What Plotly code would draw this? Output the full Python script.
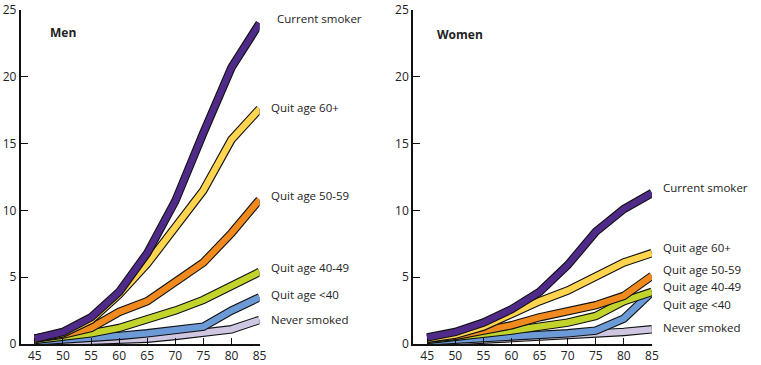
import plotly.graph_objects as go

ages = [45, 50, 55, 60, 65, 70, 75, 80, 85]
series_names = ["Current smoker", "Quit age 60+", "Quit age 50-59", "Quit age 40-49", "Quit age <40", "Never smoked"]
colors = ["#4f2a88", "#ffd44f", "#f08a1e", "#c2d42c", "#6b9ad6", "#cfc6e2"]

men_current = [0.4, 0.9, 2.0, 3.9, 6.8, 10.7, 15.8, 20.7, 24.0]
men_q60 = [0.4, 0.8, 1.8, 3.7, 6.0, 8.7, 11.5, 15.3, 17.6]
men_q50 = [0.4, 0.7, 1.2, 2.4, 3.2, 4.6, 6.1, 8.3, 10.8]
men_q40 = [0.3, 0.5, 0.8, 1.2, 1.8, 2.5, 3.3, 4.4, 5.4]
men_qlt40 = [0.2, 0.3, 0.4, 0.6, 0.8, 1.0, 1.3, 2.5, 3.5]
men_never = [0.1, 0.15, 0.2, 0.3, 0.4, 0.6, 0.8, 1.1, 1.8]

women_current = [0.5, 0.9, 1.6, 2.6, 3.9, 5.9, 8.4, 10.1, 11.3]
women_q60 = [0.4, 0.7, 1.3, 2.3, 3.2, 4.0, 5.1, 6.1, 6.8]
women_q50 = [0.4, 0.6, 1.0, 1.4, 2.0, 2.4, 2.9, 3.6, 5.1]
women_q40 = [0.3, 0.5, 0.8, 1.0, 1.3, 1.6, 2.1, 3.2, 3.9]
women_qlt40 = [0.2, 0.3, 0.4, 0.5, 0.6, 0.8, 1.0, 1.9, 3.9]
women_never = [0.1, 0.2, 0.3, 0.4, 0.5, 0.6, 0.7, 0.9, 1.1]

men_label_x = [87.8, 86.6, 86.6, 86.6, 86.6, 86.6]
men_label_y = [24.4, 17.7, 11.15, 5.7, 3.67, 1.8]
women_label_x = [86.6, 86.6, 86.6, 86.6, 86.6, 86.6]
women_label_y = [11.75, 7.26, 5.6, 4.27, 2.92, 1.27]

x_ticks = [45, 50, 55, 60, 65, 70, 75, 80, 85]
y_ticks = [0, 5, 10, 15, 20, 25]

men = [men_current, men_q60, men_q50, men_q40, men_qlt40, men_never]
women = [women_current, women_q60, women_q50, women_q40, women_qlt40, women_never]

FONT = "Open Sans"
TXT = "#222222"
X_RANGE = [42.5, 85]
fig = go.Figure()


def xdom(v):
    return (v - X_RANGE[0]) / (X_RANGE[1] - X_RANGE[0])


annotations = []
draw_order = [5, 4, 3, 2, 1, 0]
for data, lx, ly, xa, ya in [(men, men_label_x, men_label_y, "x", "y"),
                              (women, women_label_x, women_label_y, "x2", "y2")]:
    for i in draw_order:
        fig.add_trace(go.Scatter(x=ages, y=data[i], mode="lines", xaxis=xa, yaxis=ya,
                                 line=dict(color="#111111", width=8.5), cliponaxis=False,
                                 showlegend=False, hoverinfo="skip"))
        fig.add_trace(go.Scatter(x=ages, y=data[i], mode="lines", xaxis=xa, yaxis=ya,
                                 line=dict(color=colors[i], width=6.3), cliponaxis=False,
                                 showlegend=False, name=series_names[i]))
    for i, name in enumerate(series_names):
        annotations.append(dict(x=xdom(lx[i]), y=ly[i], xref=xa + " domain", yref=ya, text=name,
                                showarrow=False, xanchor="left", yanchor="middle",
                                font=dict(family=FONT, size=11.5, color=TXT)))

annotations.append(dict(x=xdom(47.3), y=23.3, xref="x domain", yref="y", text="<b>Men</b>",
                        showarrow=False, xanchor="left", yanchor="middle",
                        font=dict(family=FONT, size=12, color=TXT)))
annotations.append(dict(x=xdom(46.4), y=23.2, xref="x2 domain", yref="y2", text="<b>Women</b>",
                        showarrow=False, xanchor="left", yanchor="middle",
                        font=dict(family=FONT, size=12, color=TXT)))

W, H = 761, 365
xcommon = dict(range=X_RANGE, tickvals=x_ticks, ticks="inside", ticklen=6, tickwidth=1,
               tickcolor="#111", showline=True, linecolor="#111", linewidth=2, showgrid=False,
               zeroline=False, tickfont=dict(family=FONT, size=12, color=TXT), fixedrange=True)
ycommon = dict(range=[0, 25], tickvals=y_ticks, ticks="inside", ticklen=7, tickwidth=1,
               tickcolor="#111", showline=True, linecolor="#111", linewidth=2, showgrid=False,
               zeroline=False, tickfont=dict(family=FONT, size=12, color=TXT), fixedrange=True)

fig.update_layout(
    width=W, height=H,
    margin=dict(l=0, r=0, t=10, b=H - 344),
    paper_bgcolor="white", plot_bgcolor="white",
    xaxis=dict(domain=[21 / W, 262 / W], anchor="y", **xcommon),
    yaxis=dict(domain=[0, 1], anchor="x", **ycommon),
    xaxis2=dict(domain=[417 / W, 658 / W], anchor="y2", **xcommon),
    yaxis2=dict(domain=[0, 1], anchor="x2", **ycommon),
    annotations=annotations,
    showlegend=False,
)

fig.write_html("out.html", config={"displayModeBar": False},
               post_script="document.body.style.margin='0';")
